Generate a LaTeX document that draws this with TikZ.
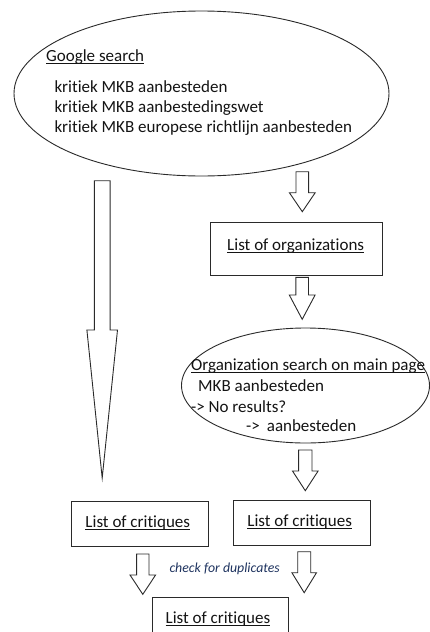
\documentclass[tikz,border=0pt]{standalone}
\usepackage{fontspec}
\setmainfont[Ligatures={NoCommon}]{Carlito}
\usetikzlibrary{shapes.geometric}

\definecolor{ink}{HTML}{141414}
\definecolor{line}{HTML}{2A2A2A}
\definecolor{note}{HTML}{1F3460}

% underline that does not change the size of the text box
\newsavebox\ulinebox
\newcommand\uline[1]{\sbox\ulinebox{#1}\rlap{\smash{\rule[-2.4pt]{\wd\ulinebox}{0.9pt}}}\usebox\ulinebox}

% block arrow pointing down: name, centre x, top y, shaft half width, head half width, shoulder y, tip y
\newcommand\blockarrow[7]{%
  \draw[blockarrow] ({#2-#4},#3) -- ({#2+#4},#3) -- ({#2+#4},#6) -- ({#2+#5},#6)
    -- (#2,#7) coordinate (#1) -- ({#2-#5},#6) -- ({#2-#4},#6) -- cycle;}

\tikzset{
  txt/.style={font=\fontsize{17}{20}\selectfont, text=ink, inner sep=0pt},
  notetxt/.style={font=\fontsize{13.8}{16}\selectfont\itshape, text=note, inner sep=0pt},
  oval/.style={ellipse, draw=line, line width=0.9pt, inner sep=0pt},
  listbox/.style={rectangle, draw=line, line width=0.9pt, inner sep=0pt},
  blockarrow/.style={draw=line, line width=0.9pt, fill=white, line join=miter},
}

\begin{document}
\begin{tikzpicture}[x=1pt, y=-1pt]
\useasboundingbox (0,0) rectangle (430,632);
\fill[white] (0,0) rectangle (430,632);
\clip (0,0) rectangle (430,632);

% Google search
\node[oval, minimum width=375pt, minimum height=165pt] (google) at (201.5,93.5) {};
\node[txt, anchor=base west] (gtitle) at (46,61.7) {\uline{Google search}};
\node[txt, anchor=base west] (q1) at (54.3,92.7) {kritiek MKB aanbesteden};
\node[txt, anchor=base west] (q2) at (54.3,112.7) {kritiek MKB aanbestedingswet};
\node[txt, anchor=base west] (q3) at (54.3,132.7) {kritiek MKB europese richtlijn aanbesteden};

% right branch
\blockarrow{a1}{302.3}{171.7}{6.3}{12.9}{192.7}{211.7}
\node[listbox, minimum width=172pt, minimum height=52.7pt] (orgs) at (296.7,248.65) {};
\node[txt, anchor=base] (orgst) at (295.7,250.7) {\uline{List of organizations}};

\blockarrow{a2}{302.2}{277.3}{6.3}{12.9}{295}{319.3}
\node[oval, minimum width=248pt, minimum height=115pt] (orgsearch) at (305.5,385.5) {};
\node[txt, anchor=base west] (ostitle) at (191,370.5) {\uline{Organization search on main page}};
\node[txt, anchor=base west] (os1) at (198,391.5) {MKB aanbesteden};
\node[txt, anchor=base west] (os2) at (191,412) {-> No results?};
\node[txt, anchor=base west] (os3) at (246,431.7) {->\hspace{7pt}aanbesteden};

\blockarrow{a3}{305.3}{450}{6.7}{12.8}{471}{490.7}
\node[listbox, minimum width=136.7pt, minimum height=44.3pt] (critR) at (301.65,522.85) {};
\node[txt, anchor=base] (critRt) at (299.7,526) {\uline{List of critiques}};

% left branch
\blockarrow{big}{102.2}{180.7}{7.9}{15.3}{330}{478}
\node[listbox, minimum width=136.6pt, minimum height=44.3pt] (critL) at (140,523.85) {};
\node[txt, anchor=base] (critLt) at (137.8,527.3) {\uline{List of critiques}};

% merge
\blockarrow{a4}{142.8}{554}{6.2}{12.8}{575}{594.3}
\blockarrow{a5}{304.2}{551.7}{6.5}{12.3}{572.7}{592.7}
\node[notetxt, anchor=base west] (dup) at (169.3,572.7) {check for duplicates};
\node[listbox, minimum width=136pt, minimum height=50pt] (final) at (220.3,622.7) {};
\node[txt, anchor=base] (finalt) at (218,623.3) {\uline{List of critiques}};
\end{tikzpicture}
\end{document}
